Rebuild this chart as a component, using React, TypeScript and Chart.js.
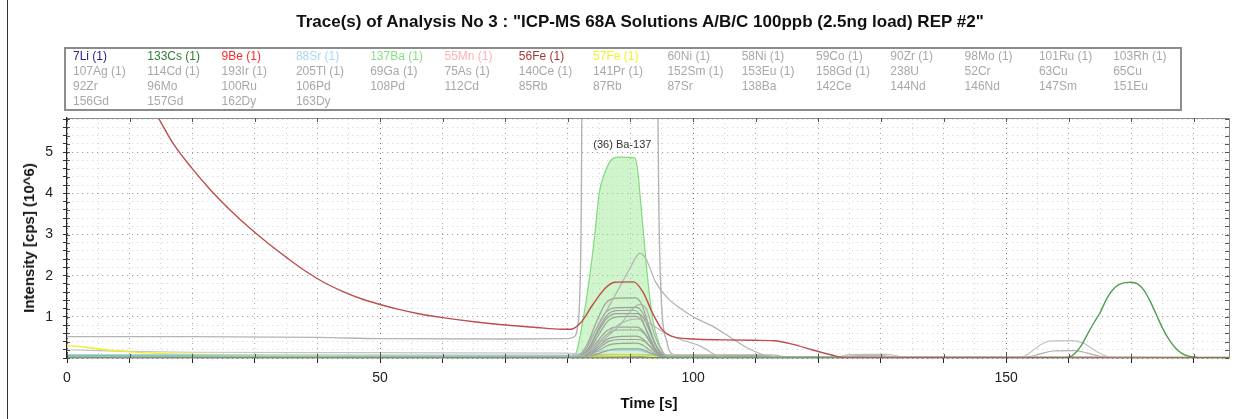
import React, { useEffect, useRef } from 'react';
import { Chart, registerables } from 'chart.js';

Chart.register(...registerables);

const X_MAX = 185.6;
const Y_MAX = 5.83;
const FONT = '"Liberation Sans", Arial, sans-serif';

const titleText = 'Trace(s) of Analysis No 3 : "ICP-MS 68A Solutions A/B/C 100ppb (2.5ng load) REP #2"';
const xTitle = 'Time [s]';
const yTitle = 'Intensity [cps] (10^6)';
const xLabelTicks = [0, 50, 100, 150];
const yLabelTicks = [1, 2, 3, 4, 5];
const annotationText = '(36) Ba-137';
const annotationPos = [88.7, 5.18];

const legendRow1 = ['7Li (1)', '133Cs (1)', '9Be (1)', '88Sr (1)', '137Ba (1)', '55Mn (1)', '56Fe (1)', '57Fe (1)', '60Ni (1)', '58Ni (1)', '59Co (1)', '90Zr (1)', '98Mo (1)', '101Ru (1)', '103Rh (1)'];
const legendRow2 = ['107Ag (1)', '114Cd (1)', '193Ir (1)', '205Tl (1)', '69Ga (1)', '75As (1)', '140Ce (1)', '141Pr (1)', '152Sm (1)', '153Eu (1)', '158Gd (1)', '238U', '52Cr', '63Cu', '65Cu'];
const legendRow3 = ['92Zr', '96Mo', '100Ru', '106Pd', '108Pd', '112Cd', '85Rb', '87Rb', '87Sr', '138Ba', '142Ce', '144Nd', '146Nd', '147Sm', '151Eu'];
const legendRow4 = ['156Gd', '157Gd', '162Dy', '163Dy'];
const legendColors = ['#25258f', '#2f7d2f', '#ff2a2a', '#a8d8f0', '#86e086', '#ffb3b3', '#a33a3a', '#f2f22a'];
const legendGray = '#a8a8a8';

// [time s, intensity 10^6 cps]
const fe56 = [[0, 11], [5, 8.8], [10, 7.0], [14.6, 5.83], [17, 5.2], [20, 4.6], [23, 4.07], [26, 3.6], [29, 3.18], [32, 2.8], [35, 2.45], [38, 2.12], [41, 1.84], [44, 1.62], [47, 1.44], [50, 1.3], [53, 1.18], [56, 1.08], [60, 0.98], [65, 0.88], [70, 0.8], [75, 0.74], [79, 0.7], [80.5, 0.7], [82, 0.85], [84, 1.3], [86, 1.7], [87.5, 1.84], [90.5, 1.85], [92, 1.6], [93.5, 1.1], [95, 0.7], [96.5, 0.53], [100, 0.46], [105, 0.44], [110, 0.43], [113, 0.42], [116, 0.33], [119, 0.2], [122, 0.08], [124.5, 0.0], [185.6, 0]];
const ba137 = [[0, 0.06], [40, 0.05], [80, 0.05], [81.2, 0.1], [82.5, 1.0], [83.5, 2.0], [84.3, 3.0], [85, 4.0], [85.9, 4.5], [87.2, 4.85], [88.5, 4.88], [90.7, 4.86], [91.2, 4.5], [91.5, 4.0], [92.1, 3.0], [92.7, 2.0], [93.5, 1.0], [94.7, 0.3], [96, 0.05], [100, 0.03], [185.6, 0.02]];
const cs133 = [[0, 0], [159, 0], [160.5, 0.05], [162, 0.3], [163, 0.58], [164, 0.85], [165, 1.1], [166, 1.42], [167, 1.65], [168, 1.78], [169, 1.83], [170, 1.84], [171, 1.8], [172, 1.65], [173, 1.38], [174, 1.05], [175, 0.72], [176, 0.45], [177, 0.25], [178, 0.12], [179, 0.05], [180.5, 0.01], [182, 0], [185.6, 0]];
const grayStep = [[0, 0.52], [20, 0.52], [40, 0.5], [50, 0.47], [70, 0.46], [80, 0.47], [80.8, 0.5], [81.6, 0.8], [82.1, 3], [82.4, 9], [94.1, 9], [94.6, 3], [95, 1.2], [95.8, 0.4], [96.6, 0.1], [98, 0.07], [113, 0.07], [115, 0.02], [185.6, 0]];
const grayPeak = [[0, 0.03], [80, 0.03], [82, 0.1], [84, 0.55], [86, 1.1], [88, 1.65], [90, 2.2], [91.5, 2.55], [92.5, 2.4], [94, 1.85], [96, 1.45], [98, 1.2], [100, 1.0], [103, 0.78], [106, 0.5], [109, 0.22], [112, 0.05], [115, 0.02], [185.6, 0.01]];
const grayDiag = [[0, 0.02], [83, 0.02], [84, 0.2], [88, 0.75], [91.5, 1.3], [92.5, 1.2], [94, 0.5], [95.5, 0.08], [97, 0.02], [185.6, 0.01]];
const grayTail = [[0, 0.02], [82, 0.05], [85, 0.4], [88, 0.8], [91, 0.95], [93, 0.85], [95, 0.65], [98, 0.45], [101, 0.3], [104, 0.05], [106, 0], [185.6, 0]];
const cl1 = [[0, 0.02], [81.5, 0.03], [83, 0.3], [84.5, 0.85], [86, 1.32], [87.5, 1.45], [90.8, 1.46], [91.8, 1.3], [92.8, 0.85], [93.8, 0.4], [94.8, 0.12], [95.8, 0.02], [185.6, 0]];
const cl2 = [[0, 0.02], [81.5, 0.03], [83, 0.25], [84.5, 0.7], [86, 1.1], [87.5, 1.22], [91, 1.23], [92, 1.08], [93, 0.7], [94, 0.32], [95, 0.1], [96, 0.02], [185.6, 0]];
const cl3 = [[0, 0.02], [81.5, 0.03], [83.2, 0.22], [84.7, 0.65], [86.2, 1.03], [87.7, 1.15], [90.6, 1.16], [91.6, 1.02], [92.6, 0.65], [93.6, 0.3], [94.6, 0.09], [95.6, 0.02], [185.6, 0]];
const cl4 = [[0, 0.02], [81.7, 0.03], [83.2, 0.2], [84.7, 0.6], [86.2, 0.96], [87.7, 1.08], [91.2, 1.08], [92.2, 0.95], [93.2, 0.6], [94.2, 0.27], [95.2, 0.08], [96.2, 0.02], [185.6, 0]];
const cl5 = [[0, 0.02], [81.7, 0.03], [83.4, 0.2], [84.9, 0.56], [86.4, 0.9], [87.9, 1.0], [90.9, 1.01], [91.9, 0.88], [92.9, 0.56], [93.9, 0.25], [94.9, 0.07], [95.9, 0.02], [185.6, 0]];
const cl6 = [[0, 0.02], [81.8, 0.03], [83.3, 0.15], [84.8, 0.42], [86.3, 0.67], [87.8, 0.75], [91, 0.75], [92, 0.66], [93, 0.42], [94, 0.19], [95, 0.05], [96, 0.02], [185.6, 0]];
const cl7 = [[0, 0.02], [81.8, 0.03], [83.5, 0.14], [85, 0.38], [86.5, 0.6], [88, 0.68], [91.2, 0.68], [92.2, 0.6], [93.2, 0.38], [94.2, 0.17], [95.2, 0.05], [96.2, 0.02], [185.6, 0]];
const cl8 = [[0, 0.02], [82, 0.03], [83.5, 0.11], [85, 0.3], [86.5, 0.47], [88, 0.52], [91, 0.53], [92, 0.46], [93, 0.3], [94, 0.13], [95, 0.04], [96, 0.02], [185.6, 0]];
const cl9 = [[0, 0.02], [82, 0.03], [83.6, 0.1], [85.1, 0.26], [86.6, 0.41], [88.1, 0.45], [91.3, 0.45], [92.3, 0.4], [93.3, 0.26], [94.3, 0.11], [95.3, 0.03], [96.3, 0.02], [185.6, 0]];
const cl10 = [[0, 0.02], [82, 0.03], [83.6, 0.08], [85.1, 0.2], [86.6, 0.32], [88.1, 0.35], [91, 0.36], [92, 0.31], [93, 0.2], [94, 0.09], [95, 0.03], [96, 0.02], [185.6, 0]];
const cl11 = [[0, 0.02], [82.2, 0.03], [83.8, 0.06], [85.3, 0.13], [86.8, 0.2], [88.3, 0.22], [91.2, 0.22], [92.2, 0.19], [93.2, 0.12], [94.2, 0.06], [95.2, 0.02], [185.6, 0.01]];
const sr88 = [[0, 0.08], [80, 0.07], [82, 0.09], [84, 0.15], [86, 0.18], [91, 0.19], [93, 0.12], [95, 0.05], [97, 0.03], [185.6, 0.01]];
const li7 = [[0, 0.02], [80, 0.02], [82, 0.03], [85, 0.06], [90, 0.06], [94, 0.02], [185.6, 0.01]];
const mn55 = [[0, 0.03], [80, 0.03], [86, 0.05], [91, 0.05], [95, 0.02], [185.6, 0.01]];
const fe57 = [[0, 0.3], [3, 0.26], [6, 0.2], [10, 0.15], [15, 0.11], [20, 0.09], [30, 0.07], [50, 0.05], [80, 0.04], [85, 0.05], [90, 0.06], [95, 0.04], [113, 0.03], [114, 0], [185.6, 0]];
const grayLow1 = [[0, 0.2], [5, 0.18], [10, 0.16], [20, 0.14], [40, 0.13], [80, 0.12], [82, 0.1], [96, 0.08], [110, 0.08], [113, 0.06], [115, 0], [185.6, 0]];
const grayLow2 = [[0, 0.04], [50, 0.04], [80, 0.04], [96, 0.05], [113, 0.05], [114, 0.01], [185.6, 0]];
const grayBump130a = [[0, 0], [119, 0], [123, 0.03], [125, 0.08], [127, 0.09], [131, 0.09], [133, 0.04], [135, 0.0], [185.6, 0]];
const grayBump130b = [[0, 0], [121, 0], [124, 0.03], [126, 0.06], [130, 0.06], [132, 0.03], [134, 0], [185.6, 0]];
const gray160a = [[0, 0], [151.5, 0], [152.5, 0.02], [154, 0.15], [155.5, 0.32], [157, 0.41], [160.5, 0.42], [162.5, 0.35], [164.5, 0.15], [166.5, 0.02], [168, 0], [185.6, 0]];
const gray160b = [[0, 0], [152.5, 0], [153.5, 0.02], [155.5, 0.1], [157.5, 0.17], [161, 0.18], [163, 0.12], [165, 0.04], [167, 0], [185.6, 0]];

const toPts = (arr: number[][]) => arr.map(([x, y]) => ({ x, y }));

function isMult(v: number, m: number) {
  const r = v / m;
  return Math.abs(r - Math.round(r)) < 1e-6;
}

export default function App() {
  const ref = useRef<HTMLCanvasElement | null>(null);

  useEffect(() => {
    if (!ref.current) return;
    const line = (data: number[][], color: string, extra: any = {}) => ({
      data: toPts(data),
      borderColor: color,
      borderWidth: 1.2,
      pointRadius: 0,
      cubicInterpolationMode: 'monotone',
      fill: false,
      ...extra,
    });
    const clusterColor = '#9aa29a';
    const datasets: any[] = [
      line(fe56, '#bf4d4d', { borderWidth: 1.4 }),
      line(cs133, '#4f9f4f', { borderWidth: 1.4 }),
      line(grayPeak, '#b2b2b2'),
      line(grayDiag, '#b0b0b0'),
      line(grayTail, '#b8b8b8'),
      line(cl1, clusterColor),
      line(cl2, clusterColor),
      line(cl3, clusterColor),
      line(cl4, clusterColor),
      line(cl5, clusterColor),
      line(cl6, clusterColor),
      line(cl7, clusterColor),
      line(cl8, clusterColor),
      line(cl9, clusterColor),
      line(cl10, clusterColor),
      line(cl11, clusterColor),
      line(sr88, '#9fd3ee'),
      line(fe57, '#eeee22', { borderWidth: 1.4 }),
      line(li7, '#5a5ab0'),
      line(mn55, '#ffb3b3'),
      line(grayLow1, '#c4c4c4'),
      line(grayLow2, '#8e8e8e', { borderWidth: 1.6 }),
      line(grayBump130a, '#c0c0c0'),
      line(grayBump130b, '#b8b8b8'),
      line(gray160a, '#c2c2c2'),
      line(gray160b, '#b0b0b0'),
      line(grayStep, '#b4b4b4', { borderWidth: 1.4 }),
      line(ba137, '#7fdc7f', { fill: 'origin', backgroundColor: 'rgba(150,230,140,0.45)', borderWidth: 1.2 }),
    ];

    const framePlugin = {
      id: 'frameAndAnno',
      afterDatasetsDraw(chart: any) {
        const { ctx, chartArea, scales } = chart;
        const { left, right, top, bottom } = chartArea;
        ctx.save();
        ctx.strokeStyle = '#8c8c8c';
        ctx.lineWidth = 1;
        ctx.beginPath();
        ctx.moveTo(left, top + 0.5);
        ctx.lineTo(right + 0.5, top + 0.5);
        ctx.lineTo(right + 0.5, bottom);
        ctx.stroke();
        // inward ticks on frame
        ctx.strokeStyle = '#555';
        scales.y.ticks.forEach((t: any) => {
          const py = Math.round(scales.y.getPixelForValue(t.value)) + 0.5;
          ctx.beginPath();
          ctx.moveTo(right - 4, py);
          ctx.lineTo(right, py);
          ctx.moveTo(left, py);
          ctx.lineTo(left + 3, py);
          ctx.stroke();
        });
        scales.x.ticks.forEach((t: any) => {
          if (!isMult(t.value, 10)) return;
          const px = Math.round(scales.x.getPixelForValue(t.value)) + 0.5;
          const len = isMult(t.value, 50) ? 6 : 4;
          ctx.beginPath();
          ctx.moveTo(px, top);
          ctx.lineTo(px, top + 4);
          ctx.moveTo(px, bottom);
          ctx.lineTo(px, bottom - len);
          ctx.stroke();
        });
        // annotation
        ctx.fillStyle = '#333';
        ctx.font = `11px ${FONT}`;
        ctx.textAlign = 'center';
        ctx.textBaseline = 'middle';
        ctx.fillText(annotationText, scales.x.getPixelForValue(annotationPos[0]), scales.y.getPixelForValue(annotationPos[1]));
        ctx.restore();
      },
    };

    const chart = new Chart(ref.current, {
      type: 'line',
      data: { datasets },
      plugins: [framePlugin],
      options: {
        responsive: false,
        animation: false,
        events: [],
        layout: { padding: { left: 0, top: 118, right: 15, bottom: 0 } },
        plugins: { legend: { display: false }, tooltip: { enabled: false }, title: { display: false } },
        scales: {
          x: {
            type: 'linear',
            min: 0,
            max: X_MAX,
            afterFit: (s: any) => { s.height = 61; },
            ticks: {
              stepSize: 5,
              includeBounds: false,
              autoSkip: false,
              maxRotation: 0,
              padding: 7,
              color: '#222',
              font: { family: FONT, size: 14 },
              callback: (v: any) => (xLabelTicks.some((t) => Math.abs(t - v) < 1e-6) ? String(Math.round(v)) : ''),
            },
            grid: {
              color: (c: any) => {
                const v = c.tick ? c.tick.value : 0;
                if (isMult(v, 50)) return '#6e6e6e';
                if (isMult(v, 10)) return '#a8a8a8';
                return '#d2d2d2';
              },
              lineWidth: 1,
              tickLength: 5,
              tickColor: (c: any) => {
                const v = c.tick ? c.tick.value : 0;
                return isMult(v, 10) ? '#222' : 'rgba(0,0,0,0)';
              },
            },
            border: { color: '#222', width: 1.2, dash: [1, 4] },
          },
          y: {
            type: 'linear',
            min: 0,
            max: Y_MAX,
            afterFit: (s: any) => { s.width = 67; },
            ticks: {
              stepSize: 0.2,
              includeBounds: false,
              autoSkip: false,
              padding: 10,
              color: '#222',
              font: { family: FONT, size: 14 },
              callback: (v: any) => (yLabelTicks.some((t) => Math.abs(t - v) < 1e-6) ? String(Math.round(v)) : ''),
            },
            grid: {
              color: (c: any) => {
                const v = c.tick ? c.tick.value : 0;
                return isMult(v, 1) ? '#8a8a8a' : '#cfcfcf';
              },
              lineWidth: 1,
              tickLength: 4,
              tickColor: '#333',
            },
            border: { color: '#222', width: 1.2, dash: [1, 4] },
          },
        },
      } as any,
    });
    return () => chart.destroy();
  }, []);

  const rows = [legendRow1, legendRow2, legendRow3, legendRow4];

  return (
    <div style={{ position: 'fixed', left: 0, top: 0, width: 1244, height: 419, background: '#fff', overflow: 'hidden', fontFamily: FONT }}>
      <div style={{ position: 'absolute', left: 7, top: 0, width: 1, height: 419, background: '#333' }} />
      <canvas ref={ref} width={1244} height={419} style={{ position: 'absolute', left: 0, top: 0, display: 'block' }} />
      <div style={{ position: 'absolute', left: 0, width: 1280, top: 12, textAlign: 'center', whiteSpace: 'nowrap', fontWeight: 'bold', fontSize: 17, color: '#111', lineHeight: '20px' }}>{titleText}</div>
      <div style={{ position: 'absolute', left: 64, top: 47, width: 1118, height: 64, boxSizing: 'border-box', border: '2px solid #8c8c8c' }} />
      {rows.map((row, ri) =>
        row.map((label, ci) => (
          <div
            key={`${ri}-${ci}`}
            style={{
              position: 'absolute',
              left: 73 + 74.3 * ci,
              top: 56 + 15 * ri - 7,
              fontSize: 12,
              lineHeight: '14px',
              whiteSpace: 'nowrap',
              color: ri === 0 && ci < legendColors.length ? legendColors[ci] : legendGray,
            }}
          >
            {label}
          </div>
        ))
      )}
      <div style={{ position: 'absolute', left: 549, width: 200, top: 394, textAlign: 'center', fontWeight: 'bold', fontSize: 15, color: '#111', lineHeight: '18px', whiteSpace: 'nowrap' }}>{xTitle}</div>
      <div style={{ position: 'absolute', left: 29, top: 238, transform: 'translate(-50%,-50%) rotate(-90deg)', fontWeight: 'bold', fontSize: 15, color: '#111', lineHeight: '18px', whiteSpace: 'nowrap' }}>{yTitle}</div>
    </div>
  );
}
